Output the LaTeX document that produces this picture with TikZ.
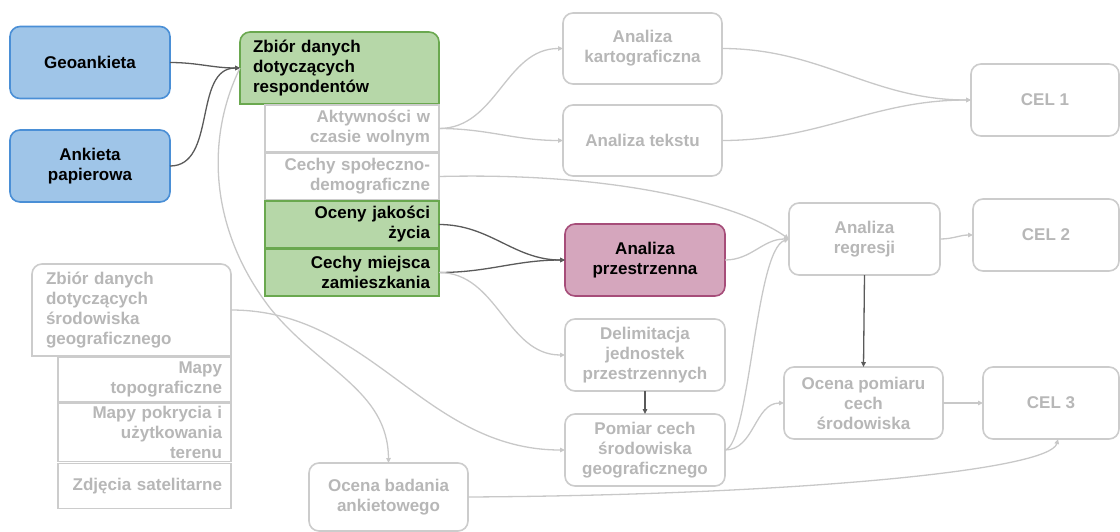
\documentclass[tikz,border=0pt]{standalone}
\usepackage{fontspec}
\setmainfont{Liberation Sans}
\usetikzlibrary{arrows.meta,backgrounds}

\definecolor{bluefill}{HTML}{9FC5E8}
\definecolor{blueline}{HTML}{4A8FD6}
\definecolor{greenfill}{HTML}{B6D7A8}
\definecolor{greenline}{HTML}{6AA84F}
\definecolor{pinkfill}{HTML}{D5A6BD}
\definecolor{pinkline}{HTML}{A64D79}
\definecolor{boxgray}{HTML}{CCCCCC}
\definecolor{textgray}{HTML}{B7B7B7}
\definecolor{linklight}{HTML}{C8C8C8}
\definecolor{linkdark}{HTML}{5A5A5A}

\begin{document}
\begin{tikzpicture}[x=1pt,y=-1pt,
  base/.style={outer sep=0pt, line width=1.6pt, inner ysep=0pt,
               font=\fontsize{17}{20}\selectfont\bfseries},
  card/.style={base, draw, rounded corners=10pt, align=center, inner xsep=0pt},
  cell/.style={base, draw, align=right, inner xsep=9pt},
  toptab/.style={base, align=left},
  bluebox/.style={draw=blueline, fill=bluefill, text=black},
  greenbox/.style={draw=greenline, fill=greenfill, text=black},
  pinkbox/.style={draw=pinkline, fill=pinkfill, text=black},
  graybox/.style={draw=boxgray, fill=white, text=textgray},
  tip/.style={-{Triangle[length=5pt,width=4.5pt]}},
  light/.style={draw=linklight, line width=1.3pt, tip},
  dark/.style={draw=linkdark, line width=1.3pt, tip}]

\useasboundingbox (0,0) rectangle (1120,531);

% survey sources
\node[card,bluebox,minimum width=160pt,minimum height=72pt] (geo) at (90,62.5) {Geoankieta};
\node[card,bluebox,minimum width=160pt,minimum height=72pt] (pap) at (90,166) {Ankieta\\papierowa};

% respondent data set and its parts
\node[toptab,text=black,text width=173pt,inner xsep=13pt,minimum height=72pt] (zr) at (339.5,68)
  {Zbiór danych\\dotyczących\\respondentów};
\node[cell,graybox,text width=156pt,minimum height=46.5pt] (akt) at (352,128.5) {Aktywności w\\czasie wolnym};
\node[cell,graybox,text width=156pt,minimum height=46.5pt] (spo) at (352,176.5) {Cechy społeczno-\\demograficzne};
\node[cell,greenbox,text width=156pt,minimum height=46.5pt] (oce) at (352,224.5) {Oceny jakości\\życia};
\node[cell,greenbox,text width=156pt,minimum height=46.5pt] (mie) at (352,272.5) {Cechy miejsca\\zamieszkania};

% geographic environment data set and its parts
\node[toptab,text=textgray,text width=171pt,inner xsep=14pt,minimum height=92pt] (zs) at (131.5,310)
  {Zbiór danych\\dotyczących\\środowiska\\geograficznego};
\node[cell,graybox,text width=155pt,minimum height=45pt] (topo) at (144.5,379.5) {Mapy\\topograficzne};
\node[cell,graybox,text width=155pt,minimum height=58pt] (pokr) at (144.5,432.5) {Mapy pokrycia i\\użytkowania\\terenu};
\node[cell,graybox,text width=155pt,minimum height=45pt] (sat) at (144.5,486) {Zdjęcia satelitarne};

% analyses
\node[card,graybox,minimum width=159pt,minimum height=71pt] (kart) at (642.5,48.5) {Analiza\\kartograficzna};
\node[card,graybox,minimum width=159pt,minimum height=71pt] (tek) at (642.5,140.5) {Analiza tekstu};
\node[card,pinkbox,minimum width=160pt,minimum height=72pt] (prz) at (645,260) {Analiza\\przestrzenna};
\node[card,graybox,minimum width=160pt,minimum height=72pt] (del) at (645,355) {Delimitacja\\jednostek\\przestrzennych};
\node[card,graybox,minimum width=160pt,minimum height=72pt] (pom) at (645,450) {Pomiar cech\\środowiska\\geograficznego};
\node[card,graybox,minimum width=151pt,minimum height=72pt] (reg) at (864.5,239) {Analiza\\regresji};
\node[card,graybox,minimum width=159pt,minimum height=72pt] (opc) at (863.5,403) {Ocena pomiaru\\cech\\środowiska};
\node[card,graybox,minimum width=159pt,minimum height=68pt] (oba) at (388.5,497) {Ocena badania\\ankietowego};

% goals
\node[card,graybox,minimum width=148pt,minimum height=72pt] (cel1) at (1045,100) {CEL 1};
\node[card,graybox,minimum width=146pt,minimum height=72pt] (cel2) at (1046,235) {CEL 2};
\node[card,graybox,minimum width=136pt,minimum height=72pt] (cel3) at (1051,403) {CEL 3};

% outlines of the two data sets: rounded on top, square at the bottom
\begin{scope}[on background layer]
  \path[fill=greenfill, draw=greenline, line width=1.6pt, rounded corners=10pt]
    (zr.south west) -- (zr.north west) -- (zr.north east) -- (zr.south east);
  \draw[greenline, line width=1.6pt, line cap=rect] (zr.south west) -- (zr.south east);
  \path[fill=white, draw=boxgray, line width=1.6pt, rounded corners=10pt]
    (zs.south west) -- (zs.north west) -- (zs.north east) -- (zs.south east);
  \draw[boxgray, line width=1.6pt, line cap=rect] (zs.south west) -- (zs.south east);
\end{scope}

% connectors
\draw[dark] (geo.east) to[out=0,in=180] (zr.west);
\draw[dark] (pap.east) to[out=0,in=180] (zr.west);
\draw[light] (zr.west) .. controls (205,140) and (210,230) .. (270,308)
  .. controls (320,370) and (388,390) .. (oba.north);

\draw[light] (akt.east) to[out=0,in=180] (kart.west);
\draw[light] (akt.east) to[out=0,in=180] (tek.west);
\draw[light] (kart.east) to[out=0,in=180] (cel1.west);
\draw[light] (tek.east) to[out=0,in=180] (cel1.west);

\draw[light] (spo.east) .. controls (620,172) and (740,205) .. (reg.west);
\draw[dark] (oce.east) to[out=0,in=180] (prz.west);
\draw[dark] (mie.east) to[out=0,in=180] (prz.west);
\draw[light] (mie.east) to[out=0,in=180] (del.west);
\draw[light] (zs.east) to[out=0,in=180] (pom.west);

\draw[light] (prz.east) to[out=0,in=180] (reg.west);
\draw[dark] (del.south) -- (pom.north);
\draw[light] (pom.east) .. controls (750,445) and (755,250) .. (reg.west);
\draw[light] (pom.east) to[out=0,in=180] (opc.west);
\draw[dark] (reg.south) -- (opc.north);
\draw[light] (reg.east) to[out=0,in=180] (cel2.west);
\draw[light] (opc.east) -- (cel3.west);
\draw[light] (oba.east) .. controls (800,495) and (1050,470) .. ([xshift=7pt]cel3.south);

\end{tikzpicture}
\end{document}
